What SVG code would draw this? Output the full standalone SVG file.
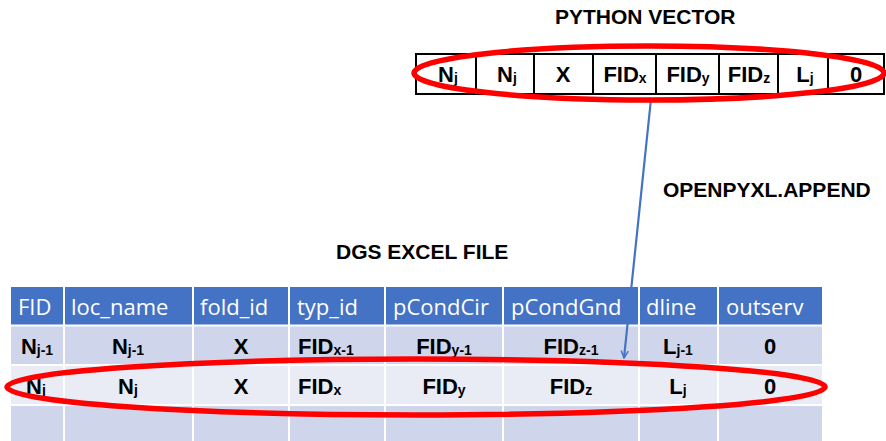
<svg xmlns="http://www.w3.org/2000/svg" width="886" height="441" viewBox="0 0 886 441">
  <style>
    .title { font-family: "Liberation Sans", Arial, sans-serif; font-weight: bold; font-size: 21px; fill: #000; }
    .vcell { fill: #fff; stroke: #000; stroke-width: 2; }
    .vtxt { font-family: "Liberation Sans", Arial, sans-serif; font-weight: bold; font-size: 22px; fill: #000; text-anchor: middle; }
    .hdr { fill: #4472C4; }
    .r1 { fill: #CFD5EA; }
    .r2 { fill: #E9EBF5; }
    .htxt { font-family: "Open Sans", "Liberation Sans", sans-serif; font-size: 22px; font-weight: 500; fill: #fff; }
    .btxt { font-family: "Liberation Sans", Arial, sans-serif; font-weight: bold; font-size: 22px; fill: #000; text-anchor: middle; }
    .left { text-anchor: start; }
    .sub { font-size: 14px; }
    .grid { stroke: #fff; stroke-width: 2; }
    .ring { fill: none; stroke: #FF0000; stroke-width: 5.5; }
    .conn { stroke: #4472C4; stroke-width: 2.2; fill: none; }
  </style>
  <defs>
    <marker id="arrowHead" viewBox="0 0 10 10" refX="9" refY="5" markerWidth="9" markerHeight="9" orient="auto" markerUnits="userSpaceOnUse">
      <path d="M1,1 L9,5 L1,9" fill="none" stroke="#4472C4" stroke-width="1.6"/>
    </marker>
  </defs>

  <rect width="886" height="441" fill="#fff"/>

  <!-- labels -->
  <text class="title" x="555" y="24">PYTHON VECTOR</text>
  <text class="title" x="663" y="197">OPENPYXL.APPEND</text>
  <text class="title" x="336" y="259" font-size="20">DGS EXCEL FILE</text>

  <!-- python vector -->
  <g id="python-vector">
    <rect class="vcell" x="416" y="54" width="60" height="40"/>
    <rect class="vcell" x="476" y="54" width="58" height="40"/>
    <rect class="vcell" x="534" y="54" width="59" height="40"/>
    <rect class="vcell" x="593" y="54" width="63" height="40"/>
    <rect class="vcell" x="656" y="54" width="63" height="40"/>
    <rect class="vcell" x="719" y="54" width="59" height="40"/>
    <rect class="vcell" x="778" y="54" width="50" height="40"/>
    <rect class="vcell" x="828" y="54" width="56" height="40"/>
    <text class="vtxt" x="448" y="82">N<tspan class="sub" dy="1">j</tspan></text>
    <text class="vtxt" x="507" y="82">N<tspan class="sub" dy="1">j</tspan></text>
    <text class="vtxt" x="563" y="82">X</text>
    <text class="vtxt" x="625" y="82">FID<tspan class="sub" dy="1">x</tspan></text>
    <text class="vtxt" x="688" y="82">FID<tspan class="sub" dy="1">y</tspan></text>
    <text class="vtxt" x="749" y="82">FID<tspan class="sub" dy="1">z</tspan></text>
    <text class="vtxt" x="805" y="82">L<tspan class="sub" dy="1">j</tspan></text>
    <text class="vtxt" x="856" y="82">0</text>
  </g>

  <!-- excel table -->
  <g id="excel-table">
    <rect class="hdr" x="11" y="287" width="811" height="38"/>
    <rect class="r1" x="11" y="325" width="811" height="40"/>
    <rect class="r2" x="11" y="365" width="811" height="40"/>
    <rect class="r1" x="11" y="405" width="811" height="40"/>
    <!-- grid lines -->
    <g class="grid">
      <line x1="11" y1="325.5" x2="822" y2="325.5"/>
      <line x1="11" y1="365" x2="822" y2="365"/>
      <line x1="11" y1="405" x2="822" y2="405"/>
      <line x1="64" y1="287" x2="64" y2="441"/>
      <line x1="193" y1="287" x2="193" y2="441"/>
      <line x1="289" y1="287" x2="289" y2="441"/>
      <line x1="385" y1="287" x2="385" y2="441"/>
      <line x1="503" y1="287" x2="503" y2="441"/>
      <line x1="639" y1="287" x2="639" y2="441"/>
      <line x1="718" y1="287" x2="718" y2="441"/>
    </g>
    <!-- header -->
    <text class="htxt" x="18" y="315">FID</text>
    <text class="htxt" x="71" y="315">loc_name</text>
    <text class="htxt" x="200" y="315">fold_id</text>
    <text class="htxt" x="297" y="315">typ_id</text>
    <text class="htxt" x="393" y="315">pCondCir</text>
    <text class="htxt" x="511" y="315">pCondGnd</text>
    <text class="htxt" x="646" y="315">dline</text>
    <text class="htxt" x="726" y="315">outserv</text>
    <!-- row j-1 -->
    <text class="btxt" x="37" y="354">N<tspan class="sub" dy="1">j-1</tspan></text>
    <text class="btxt" x="128" y="354">N<tspan class="sub" dy="1">j-1</tspan></text>
    <text class="btxt" x="241" y="354">X</text>
    <text class="btxt left" x="298" y="354">FID<tspan class="sub" dy="1">x-1</tspan></text>
    <text class="btxt" x="444" y="354">FID<tspan class="sub" dy="1">y-1</tspan></text>
    <text class="btxt" x="571" y="354">FID<tspan class="sub" dy="1">z-1</tspan></text>
    <text class="btxt" x="678" y="354">L<tspan class="sub" dy="1">j-1</tspan></text>
    <text class="btxt" x="770" y="354">0</text>
    <!-- row j -->
    <text class="btxt" x="36" y="394">N<tspan class="sub" dy="1">j</tspan></text>
    <text class="btxt" x="128" y="394">N<tspan class="sub" dy="1">j</tspan></text>
    <text class="btxt" x="241" y="394">X</text>
    <text class="btxt left" x="298" y="394">FID<tspan class="sub" dy="1">x</tspan></text>
    <text class="btxt" x="444" y="394">FID<tspan class="sub" dy="1">y</tspan></text>
    <text class="btxt" x="571" y="394">FID<tspan class="sub" dy="1">z</tspan></text>
    <text class="btxt" x="678" y="394">L<tspan class="sub" dy="1">j</tspan></text>
    <text class="btxt" x="770" y="394">0</text>
  </g>

  <!-- connectors -->
  <g id="connectors">
    <line class="conn" x1="651" y1="99" x2="624" y2="358" marker-end="url(#arrowHead)"/>
  </g>

  <!-- highlight rings -->
  <g id="highlights">
    <ellipse class="ring" cx="649" cy="73" rx="235" ry="27"/>
    <ellipse class="ring" cx="416" cy="387" rx="409" ry="28"/>
  </g>
</svg>
